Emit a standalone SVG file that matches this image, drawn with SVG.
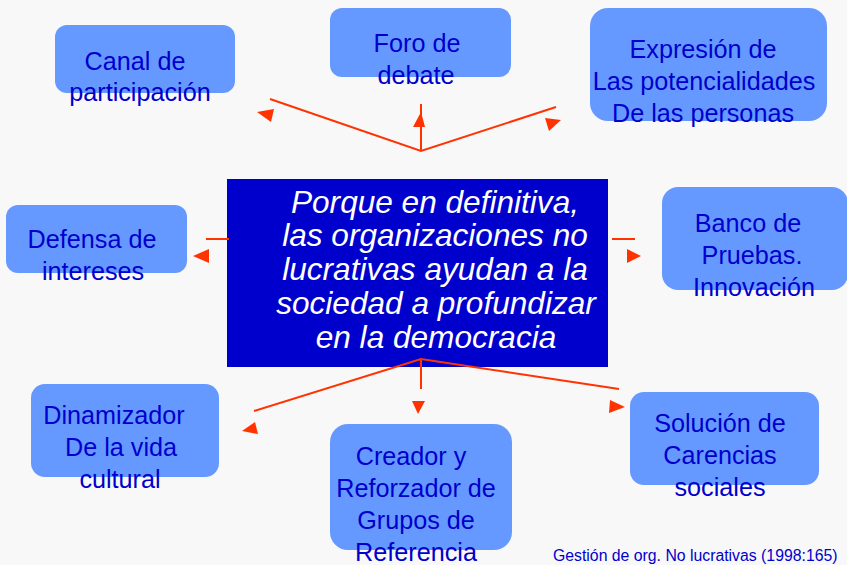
<svg xmlns="http://www.w3.org/2000/svg" width="847" height="565" viewBox="0 0 847 565">
<style>
.box{fill:#6699ff}
.t{font-family:"Liberation Sans",Arial,sans-serif;font-size:25.2px;fill:#0000cc;text-anchor:middle}
.c{font-family:"Liberation Sans",Arial,sans-serif;font-size:31.6px;font-style:italic;fill:#ffffff;text-anchor:middle}
.ln{stroke:#ff3300;stroke-width:2;fill:none}
.ah{fill:#ff3300}
</style>
<rect width="847" height="565" fill="#f8f8f8"/>
<g id="canal">
<rect class="box" x="55" y="25" width="180" height="68" rx="12"/>
<text class="t" x="135" y="70">Canal de</text>
<text class="t" x="140" y="101">participación</text>
</g>
<g id="foro">
<rect class="box" x="330" y="8" width="181" height="69" rx="12"/>
<text class="t" x="417" y="52">Foro de</text>
<text class="t" x="416" y="84">debate</text>
</g>
<g id="expresion">
<rect class="box" x="590" y="8" width="237" height="113" rx="18"/>
<text class="t" x="703" y="58">Expresión de</text>
<text class="t" x="704" y="90">Las potencialidades</text>
<text class="t" x="703" y="122">De las personas</text>
</g>
<g id="centro">
<rect x="227" y="179" width="381" height="188" fill="#0000cc"/>
<text class="c" x="435" y="213">Porque en definitiva,</text>
<text class="c" x="435" y="246">las organizaciones no</text>
<text class="c" x="435" y="280">lucrativas ayudan a la</text>
<text class="c" x="436" y="314">sociedad a profundizar</text>
<text class="c" x="436" y="348">en la democracia</text>
</g>
<g id="defensa">
<rect class="box" x="6" y="205" width="181" height="68" rx="12"/>
<text class="t" x="92" y="248">Defensa de</text>
<text class="t" x="93" y="280">intereses</text>
</g>
<g id="banco">
<rect class="box" x="662" y="187" width="186" height="103" rx="16"/>
<text class="t" x="748" y="232">Banco de</text>
<text class="t" x="752" y="264">Pruebas.</text>
<text class="t" x="754" y="296">Innovación</text>
</g>
<g id="dinamizador">
<rect class="box" x="31" y="384" width="188" height="93" rx="14"/>
<text class="t" x="114" y="424">Dinamizador</text>
<text class="t" x="121" y="456">De la vida</text>
<text class="t" x="120" y="488">cultural</text>
</g>
<g id="creador">
<rect class="box" x="330" y="424" width="182" height="126" rx="18"/>
<text class="t" x="411" y="465">Creador y</text>
<text class="t" x="416" y="497">Reforzador de</text>
<text class="t" x="416" y="529">Grupos de</text>
<text class="t" x="416" y="561">Referencia</text>
</g>
<g id="solucion">
<rect class="box" x="630" y="392" width="189" height="93" rx="14"/>
<text class="t" x="720" y="432">Solución de</text>
<text class="t" x="720" y="464">Carencias</text>
<text class="t" x="720" y="496">sociales</text>
</g>
<g id="connectors">
<path class="ln" d="M270,99 L421,151 L556,107 M421,151 L421,104"/>
<polygon class="ah" points="257,112 274,109 271,122"/>
<polygon class="ah" points="421,112 425,127 413,127"/>
<polygon class="ah" points="561,120 545,118 549,131"/>
<path class="ln" d="M206,239 L229,239"/>
<polygon class="ah" points="193,256 209,249 209,263"/>
<path class="ln" d="M612,239 L635,239"/>
<polygon class="ah" points="641,256 627,249 627,263"/>
<path class="ln" d="M254,411 L421,359 L619,389 M421,359 L421,389"/>
<polygon class="ah" points="412,401 425,401 418,414"/>
<polygon class="ah" points="625,407 610,400 609,413"/>
<polygon class="ah" points="242,431 255,422 258,434"/>
</g>
<text x="553" y="561" font-family="Liberation Sans,Arial,sans-serif" font-size="15.8" fill="#0000cc">Gestión de org. No lucrativas (1998:165)</text>
</svg>
